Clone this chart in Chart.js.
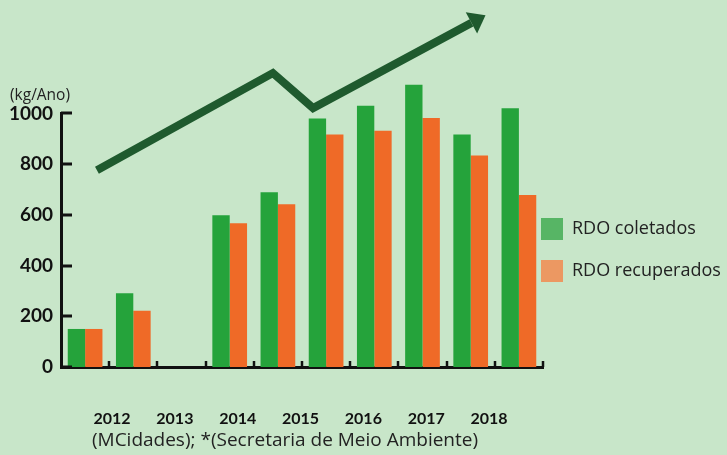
<!DOCTYPE html>
<html><head><meta charset="utf-8">
<script src="https://cdn.jsdelivr.net/npm/chart.js@4.4.1/dist/chart.umd.min.js"></script>
<style>html,body{margin:0;padding:0;background:#c8e6c9;overflow:hidden}canvas{display:block}</style>
</head><body>
<canvas id="c" width="727" height="455"></canvas>
<script>
// ---- data ----
const slots = ['1','2','3','4','5','6','7','8','9','10'];
const coletados   = [150, 291, null, 598, 689, 980, 1030, 1113, 917, 1020];
const recuperados = [150, 222, null, 567, 642, 917,  932,  982, 834,  678];
const yearTicks  = [2012, 2013, 2014, 2015, 2016, 2017, 2018];
const yearLabels = ['2012','2013','2014','2015','2016','2017','2018'];
const yTicks = [0, 200, 400, 600, 800, 1000];
const trendX = [2011.76, 2014.56, 2015.20, 2017.72];
const trendY = [776, 1159, 1021, 1357];
const seriesNames = ['RDO coletados', 'RDO recuperados'];
const unitLabel = '(kg/Ano)';
const sourceNote = '(MCidades); *(Secretaria de Meio Ambiente)';

// ---- styles ----
const BG = '#c8e6c9';
const barColors = ['#25a33b', '#ef6a27'];
const legendColors = ['#57b565', '#ec9862'];
const arrowColor = '#1f5a2e';
const ink = '#111';
const textFont = 'Open Sans';

Chart.defaults.font.family = 'Lato';

const deco = {
  id: 'deco',
  beforeDraw(chart) {
    const ctx = chart.ctx;
    ctx.save(); ctx.fillStyle = BG; ctx.fillRect(0, 0, chart.width, chart.height); ctx.restore();
    const lg = chart.legend;
    if (lg) { lg.left = 521; lg.right = 727; lg.top = 198; lg.bottom = 455; }
  },
  afterDatasetsDraw(chart) {
    // trend arrow, positioned through the x2 / y scales
    const xs = chart.scales.x2, ys = chart.scales.y, ctx = chart.ctx;
    const pts = trendX.map((v, i) => ({ x: xs.getPixelForValue(v), y: ys.getPixelForValue(trendY[i]) }));
    ctx.save();
    ctx.strokeStyle = arrowColor; ctx.fillStyle = arrowColor;
    ctx.lineWidth = 8; ctx.lineJoin = 'miter'; ctx.lineCap = 'butt';
    ctx.beginPath();
    pts.forEach((p, i) => i ? ctx.lineTo(p.x, p.y) : ctx.moveTo(p.x, p.y));
    ctx.stroke();
    const a = pts[pts.length - 2], b = pts[pts.length - 1];
    const ang = Math.atan2(b.y - a.y, b.x - a.x);
    const L = 16, W = 24;
    ctx.beginPath();
    ctx.moveTo(b.x + Math.cos(ang) * L, b.y + Math.sin(ang) * L);
    ctx.lineTo(b.x - Math.sin(ang) * W / 2, b.y + Math.cos(ang) * W / 2);
    ctx.lineTo(b.x + Math.sin(ang) * W / 2, b.y - Math.cos(ang) * W / 2);
    ctx.closePath();
    ctx.fill();
    ctx.restore();
  },
  afterDraw(chart) {
    const ctx = chart.ctx, x = chart.scales.x, y = chart.scales.y, ca = chart.chartArea;
    ctx.save();
    ctx.strokeStyle = ink; ctx.lineCap = 'butt';
    ctx.lineWidth = 3;
    yTicks.forEach(v => {
      const py = Math.round(y.getPixelForValue(v));
      ctx.beginPath(); ctx.moveTo(ca.left, py); ctx.lineTo(ca.left + 11, py); ctx.stroke();
    });
    ctx.lineWidth = 2.5;
    for (let k = 1; k <= slots.length; k++) {
      const px = Math.round(x.getPixelForValue(k - 0.5));
      ctx.beginPath(); ctx.moveTo(px, ca.bottom); ctx.lineTo(px, ca.bottom - 6); ctx.stroke();
    }
    ctx.fillStyle = '#222'; ctx.font = '19px "' + textFont + '"';
    ctx.textAlign = 'center'; ctx.textBaseline = 'middle';
    ctx.fillText(sourceNote, 285, 441);
    ctx.restore();
  }
};

new Chart(document.getElementById('c'), {
  type: 'bar',
  data: {
    labels: slots,
    datasets: [
      { label: seriesNames[0], data: coletados, backgroundColor: barColors[0], borderWidth: 0 },
      { label: seriesNames[1], data: recuperados, backgroundColor: barColors[1], borderWidth: 0 }
    ]
  },
  options: {
    responsive: false,
    animation: false,
    datasets: { bar: { categoryPercentage: 0.72, barPercentage: 1, clip: false, skipNull: true } },
    layout: { padding: { left: 10, right: 34, top: 0, bottom: 0 } },
    plugins: {
      tooltip: { enabled: false },
      title: {
        display: true, text: unitLabel, align: 'start', color: '#222',
        font: { family: textFont, size: 15.5, weight: 'normal' }, padding: { top: 86.4, bottom: 8.4 }
      },
      legend: {
        position: 'right', align: 'start', maxWidth: 150,
        labels: {
          boxWidth: 22, boxHeight: 22, padding: 20, color: '#222',
          font: { family: textFont, size: 18 },
          generateLabels: () => seriesNames.map((t, i) => ({
            text: t, fillStyle: legendColors[i], strokeStyle: legendColors[i], lineWidth: 0,
            hidden: false, datasetIndex: i, fontColor: '#222'
          }))
        }
      }
    },
    scales: {
      x: {
        type: 'category', position: 'bottom', weight: 0, offset: true,
        grid: { display: false, drawTicks: false },
        ticks: { display: false },
        border: { display: true, color: ink, width: 3 },
        afterFit: s => { s.height = 0; }
      },
      x2: {
        type: 'linear', position: 'bottom', weight: 1, offset: false,
        min: 2011.188, max: 2018.859,
        grid: { display: false, drawTicks: false, offset: false },
        border: { display: false },
        ticks: { color: ink, font: { size: 16, weight: 'bold' }, padding: 42, autoSkip: false, maxRotation: 0,
                 callback: (v, i) => yearLabels[i] },
        afterBuildTicks: s => { s.ticks = yearTicks.map(v => ({ value: v })); },
        afterFit: s => { s.height = 88; }
      },
      y: {
        type: 'linear', min: 0, max: 1000,
        grid: { display: false, drawTicks: false },
        border: { display: true, color: ink, width: 3 },
        ticks: { stepSize: 200, color: ink, padding: 8, font: { size: 19, weight: 'bold' },
                 callback: v => String(v) },
        afterFit: s => { s.width = 51; }
      }
    }
  },
  plugins: [deco]
});
</script>
</body></html>
